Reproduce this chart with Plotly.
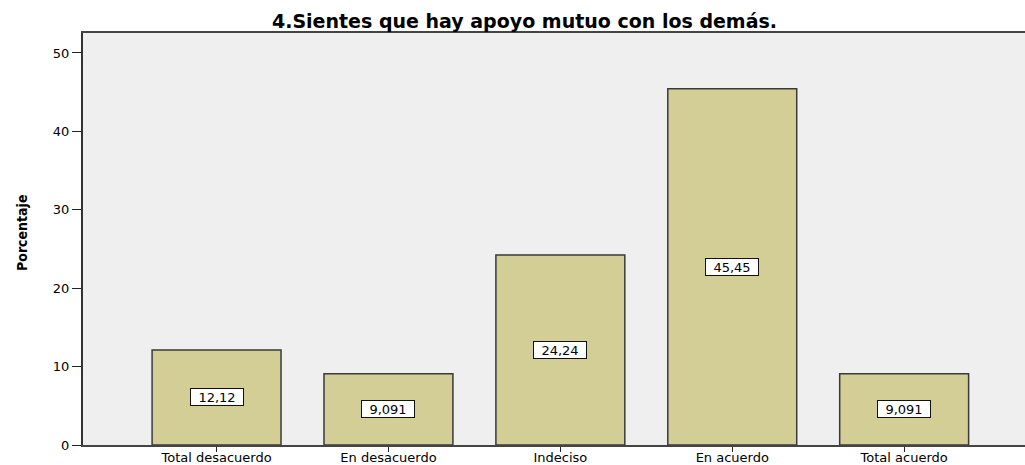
import plotly.graph_objects as go

categories = ["Total desacuerdo", "En desacuerdo", "Indeciso", "En acuerdo", "Total acuerdo"]
values = [12.12, 9.091, 24.24, 45.45, 9.091]
labels = ["12,12", "9,091", "24,24", "45,45", "9,091"]
y_ticks = [0, 10, 20, 30, 40, 50]

fig = go.Figure()
fig.add_trace(go.Bar(
    x=list(range(len(categories))),
    y=values,
    marker=dict(color="#d3cd96", line=dict(color="#3a3a3a", width=1.5)),
    hoverinfo="skip",
))

for i, (v, lab) in enumerate(zip(values, labels)):
    fig.add_annotation(
        x=i, y=v / 2, text=lab, showarrow=False,
        width=50, height=14,
        bgcolor="white", bordercolor="#111111", borderwidth=1, borderpad=1,
        font=dict(family="DejaVu Sans", size=13, color="black"),
    )

# y-axis title
fig.add_annotation(
    text="<b>Porcentaje</b>", textangle=-90, showarrow=False,
    xref="paper", yref="paper", x=-(83 - 22) / 942, y=(445 - 233) / 412,
    xanchor="center", yanchor="middle",
    font=dict(family="DejaVu Sans Condensed", size=14, color="black"),
)

fig.update_layout(
    width=1025, height=465,
    margin=dict(l=83, r=0, t=33, b=20),
    paper_bgcolor="white",
    plot_bgcolor="#efefef",
    bargap=0.25,
    showlegend=False,
    title=dict(
        text="<b>4.Sientes que hay apoyo mutuo con los demás.</b>",
        x=524.5 / 1025, xref="container", xanchor="center",
        y=1 - 21 / 465, yref="container", yanchor="middle",
        font=dict(family="DejaVu Sans", size=19, color="black"),
    ),
    xaxis=dict(
        tickmode="array", tickvals=list(range(len(categories))), ticktext=categories,
        range=[-0.777, 4.703],
        showgrid=False, zeroline=False,
        showline=True, linecolor="#444444", linewidth=1.5, mirror=True,
        ticks="outside", ticklen=5, tickcolor="#222222",
        ticklabelstandoff=-5,
        tickfont=dict(family="DejaVu Sans", size=13, color="black"),
        automargin=False,
        fixedrange=True,
    ),
    yaxis=dict(
        range=[0, 52.55],
        tickvals=y_ticks,
        showgrid=False, zeroline=False,
        showline=True, linecolor="#333333", linewidth=2,
        ticks="outside", ticklen=9, tickcolor="#222222",
        tickfont=dict(family="DejaVu Sans", size=13, color="black"),
        automargin=False,
        fixedrange=True,
    ),
)

fig.write_html(
    "out.html",
    config={"displayModeBar": False},
    post_script="document.body.style.margin='0';document.body.style.overflow='hidden';",
)
